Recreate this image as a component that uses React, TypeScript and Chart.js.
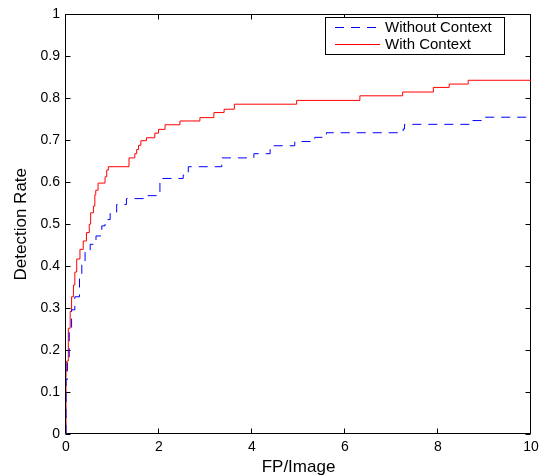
import React, { useEffect, useRef } from "react";
import { Chart, registerables } from "chart.js";

Chart.register(...registerables);

const withoutX = [0, 0, 0.03, 0.07, 0.12, 0.19, 0.29, 0.34, 0.41, 0.52, 0.645, 0.77, 0.84, 0.95, 1.09, 1.30, 1.70, 2.02, 2.52, 2.63, 3.35, 4.04, 4.39, 4.92, 5.35, 5.60, 7.25, 7.28, 8.72, 8.99, 10];
const withoutY = [0, 0.13, 0.174, 0.252, 0.296, 0.327, 0.37, 0.409, 0.437, 0.452, 0.472, 0.496, 0.511, 0.529, 0.547, 0.561, 0.568, 0.609, 0.617, 0.637, 0.658, 0.668, 0.687, 0.697, 0.707, 0.718, 0.727, 0.738, 0.747, 0.755, 0.755];

const withX = [0, 0, 0.015, 0.05, 0.09, 0.12, 0.16, 0.19, 0.23, 0.30, 0.37, 0.44, 0.50, 0.53, 0.59, 0.62, 0.64, 0.69, 0.84, 0.875, 0.91, 1.355, 1.48, 1.52, 1.56, 1.61, 1.73, 1.91, 1.99, 2.13, 2.45, 2.88, 3.18, 3.40, 3.62, 4.96, 6.32, 7.24, 7.90, 8.24, 8.65, 10];
const withY = [0, 0.15, 0.174, 0.252, 0.292, 0.327, 0.355, 0.386, 0.417, 0.44, 0.46, 0.48, 0.50, 0.527, 0.543, 0.570, 0.581, 0.598, 0.613, 0.629, 0.637, 0.658, 0.668, 0.678, 0.688, 0.699, 0.706, 0.717, 0.726, 0.737, 0.746, 0.754, 0.766, 0.774, 0.786, 0.795, 0.806, 0.815, 0.826, 0.834, 0.843, 0.843];

const xTickValues = [0, 2, 4, 6, 8, 10];
const xTickLabels = ["0", "2", "4", "6", "8", "10"];
const yTickValues = [0, 0.1, 0.2, 0.3, 0.4, 0.5, 0.6, 0.7, 0.8, 0.9, 1];
const yTickLabels = ["0", "0.1", "0.2", "0.3", "0.4", "0.5", "0.6", "0.7", "0.8", "0.9", "1"];

const seriesNames = ["Without Context", "With Context"];
const xTitle = "FP/Image";
const yTitle = "Detection Rate";

const FONT = "'Liberation Sans', Arial, Helvetica, sans-serif";

const boxPlugin = {
  id: "matlabBox",
  beforeDatasetsDraw(chart: any) {
    const { ctx, chartArea } = chart;
    const l = Math.round(chartArea.left) - 0.5;
    const r = Math.round(chartArea.right) - 0.5;
    const t = Math.round(chartArea.top) + 0.5;
    const b = Math.round(chartArea.bottom) - 0.5;
    ctx.save();
    ctx.strokeStyle = "#000";
    ctx.lineWidth = 1;
    ctx.beginPath();
    ctx.rect(l, t, r - l, b - t);
    ctx.stroke();
    const xs = chart.scales.x;
    const ys = chart.scales.y;
    const len = 5;
    ctx.beginPath();
    xTickValues.forEach((v) => {
      const px = Math.round(xs.getPixelForValue(v)) - 0.5;
      ctx.moveTo(px, b);
      ctx.lineTo(px, b - len);
      ctx.moveTo(px, t);
      ctx.lineTo(px, t + len);
    });
    yTickValues.forEach((v) => {
      const py = Math.round(ys.getPixelForValue(v)) + 0.5;
      ctx.moveTo(l, py);
      ctx.lineTo(l + len, py);
      ctx.moveTo(r, py);
      ctx.lineTo(r - len, py);
    });
    ctx.stroke();
    ctx.restore();
  },
  afterDraw(chart: any) {
    const { ctx } = chart;
    ctx.save();
    const bx = 325.5, by = 17.5, bw = 179, bh = 37;
    ctx.fillStyle = "#fff";
    ctx.fillRect(bx, by, bw, bh);
    ctx.strokeStyle = "#000";
    ctx.lineWidth = 1;
    ctx.strokeRect(bx, by, bw, bh);
    const rows = [27.5, 44.5];
    const colors = ["#0000ff", "#ff0000"];
    const dashes = [[9, 7], []];
    rows.forEach((y, i) => {
      ctx.beginPath();
      ctx.strokeStyle = colors[i];
      ctx.setLineDash(dashes[i]);
      ctx.moveTo(335, y);
      ctx.lineTo(380, y);
      ctx.stroke();
      ctx.setLineDash([]);
      ctx.fillStyle = "#000";
      ctx.font = `15px ${FONT}`;
      ctx.textBaseline = "middle";
      ctx.textAlign = "left";
      ctx.fillText(seriesNames[i], 385, y);
    });
    ctx.restore();
  },
};

export default function App() {
  const ref = useRef<HTMLCanvasElement>(null);
  useEffect(() => {
    if (!ref.current) return;
    const chart = new Chart(ref.current, {
      type: "line",
      data: {
        datasets: [
          {
            label: seriesNames[0],
            data: withoutX.map((x, i) => ({ x, y: withoutY[i] })),
            borderColor: "#0000ff",
            borderWidth: 1,
            borderDash: [9, 7],
            pointRadius: 0,
            stepped: "before",
            fill: false,
          },
          {
            label: seriesNames[1],
            data: withX.map((x, i) => ({ x, y: withY[i] })),
            borderColor: "#ff0000",
            borderWidth: 1,
            pointRadius: 0,
            stepped: "before",
            fill: false,
          },
        ],
      },
      options: {
        responsive: false,
        animation: false,
        devicePixelRatio: 1,
        layout: { padding: { left: 0, top: 9, right: 15, bottom: 0 } },
        plugins: { legend: { display: false }, tooltip: { enabled: false } },
        scales: {
          x: {
            type: "linear",
            min: 0,
            max: 10,
            grid: { display: false, drawTicks: false },
            border: { display: false },
            afterBuildTicks: (scale: any) => {
              scale.ticks = xTickValues.map((v) => ({ value: v }));
            },
            afterFit: (scale: any) => {
              scale.height = 42;
            },
            ticks: {
              padding: 5,
              color: "#000",
              font: { family: FONT, size: 14 },
              maxRotation: 0,
              callback: (_v: any, i: number) => xTickLabels[i],
            },
            title: {
              display: true,
              text: xTitle,
              color: "#000",
              font: { family: FONT, size: 17, lineHeight: 1 },
              padding: { top: 0, bottom: 0.5 },
            },
          },
          y: {
            type: "linear",
            min: 0,
            max: 1,
            grid: { display: false, drawTicks: false },
            border: { display: false },
            afterBuildTicks: (scale: any) => {
              scale.ticks = yTickValues.map((v) => ({ value: v }));
            },
            afterFit: (scale: any) => {
              scale.width = 66;
            },
            ticks: {
              padding: 6,
              color: "#000",
              font: { family: FONT, size: 14 },
              callback: (_v: any, i: number) => yTickLabels[i],
            },
            title: {
              display: true,
              text: yTitle,
              color: "#000",
              font: { family: FONT, size: 17, lineHeight: 1 },
              padding: { top: 12.5, bottom: 0 },
            },
          },
        },
      },
      plugins: [boxPlugin],
    });
    return () => chart.destroy();
  }, []);
  return (
    <div style={{ position: "absolute", left: 0, top: 0, width: 546, height: 476, background: "#fff" }}>
      <canvas ref={ref} width={546} height={476} style={{ width: 546, height: 476 }} />
    </div>
  );
}
